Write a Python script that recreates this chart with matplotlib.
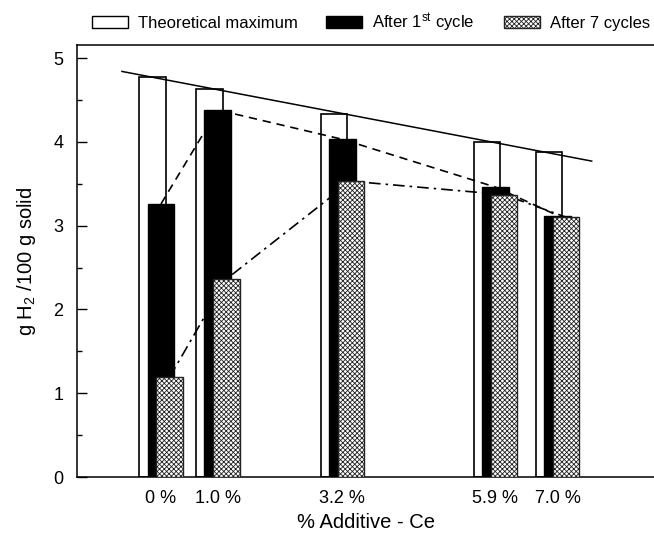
import matplotlib
matplotlib.use("Agg")
import matplotlib.pyplot as plt
from matplotlib.patches import Patch
import numpy as np

plt.rcParams['font.family'] = ['Liberation Sans', 'DejaVu Sans']
plt.rcParams['mathtext.fontset'] = 'custom'
plt.rcParams['mathtext.rm'] = 'Liberation Sans'
plt.rcParams['mathtext.it'] = 'Liberation Sans:italic'
plt.rcParams['hatch.linewidth'] = 0.6

# Data
additive = [0.0, 1.0, 3.2, 5.9, 7.0]
tick_labels = ['0 %', '1.0 %', '3.2 %', '5.9 %', '7.0 %']
theoretical = [4.77, 4.63, 4.33, 4.00, 3.88]
after_1st = [3.26, 4.38, 4.03, 3.46, 3.12]
after_7 = [1.19, 2.36, 3.53, 3.37, 3.10]
trend_x = [-0.69, 7.60]
trend_y = [4.84, 3.77]

x = np.array(additive)
w = 0.47
off = 0.15
HATCH = 'xxxxxxx'

fig = plt.figure(figsize=(6.54, 5.36), dpi=100)
ax = fig.add_axes([0.118, 0.110, 0.882, 0.806])

ax.bar(x - off, theoretical, width=w, facecolor='white', edgecolor='black',
       linewidth=1.2, zorder=2)
ax.plot(trend_x, trend_y, color='black', lw=1.1, zorder=3)
ax.plot(x, after_1st, color='black', lw=1.2, ls=(0, (5, 3.5)), zorder=3)
ax.plot(x + off, after_7, color='black', lw=1.2, ls=(0, (7, 3, 1.5, 3)), zorder=3)
ax.bar(x, after_1st, width=w, facecolor='black', edgecolor='black',
       linewidth=1.0, zorder=4)
ax.bar(x + off, after_7, width=w, facecolor='white', edgecolor='#222222',
       hatch=HATCH, linewidth=1.0, zorder=5)

ax.set_xlim(-1.48, 8.70)
ax.set_ylim(0, 5.155)
ax.set_xticks(x)
ax.set_xticklabels(tick_labels, fontsize=13)
ax.tick_params(axis='x', length=0, pad=9.5)
ax.set_yticks([0, 1, 2, 3, 4, 5])
ax.set_yticks(np.arange(0.5, 5.0, 1.0), minor=True)
ax.tick_params(axis='y', which='major', direction='in', length=7, width=1, pad=10, labelsize=13)
ax.tick_params(axis='y', which='minor', direction='in', length=3.5, width=1)
ax.spines['right'].set_visible(False)
for s in ['left', 'top', 'bottom']:
    ax.spines[s].set_linewidth(1.1)

ax.set_xlabel('% Additive - Ce', fontsize=14.5, labelpad=4)
ax.set_ylabel('g H$_2$ /100 g solid', fontsize=14.5, labelpad=11)

handles = [
    Patch(facecolor='white', edgecolor='black', linewidth=1.0),
    Patch(facecolor='black', edgecolor='black', linewidth=1.0),
    Patch(facecolor='white', edgecolor='#222222', hatch=HATCH, linewidth=1.0),
]
labels = ['Theoretical maximum', 'After 1$^{\\mathrm{st}}$ cycle', 'After 7 cycles']
fig.legend(handles, labels, loc='center', bbox_to_anchor=(0.567, 0.958), ncol=3,
           frameon=False, fontsize=12, handlelength=2.16, handleheight=0.72,
           handletextpad=0.6, columnspacing=1.74, borderpad=0)

fig.savefig('out.png', dpi=100)
